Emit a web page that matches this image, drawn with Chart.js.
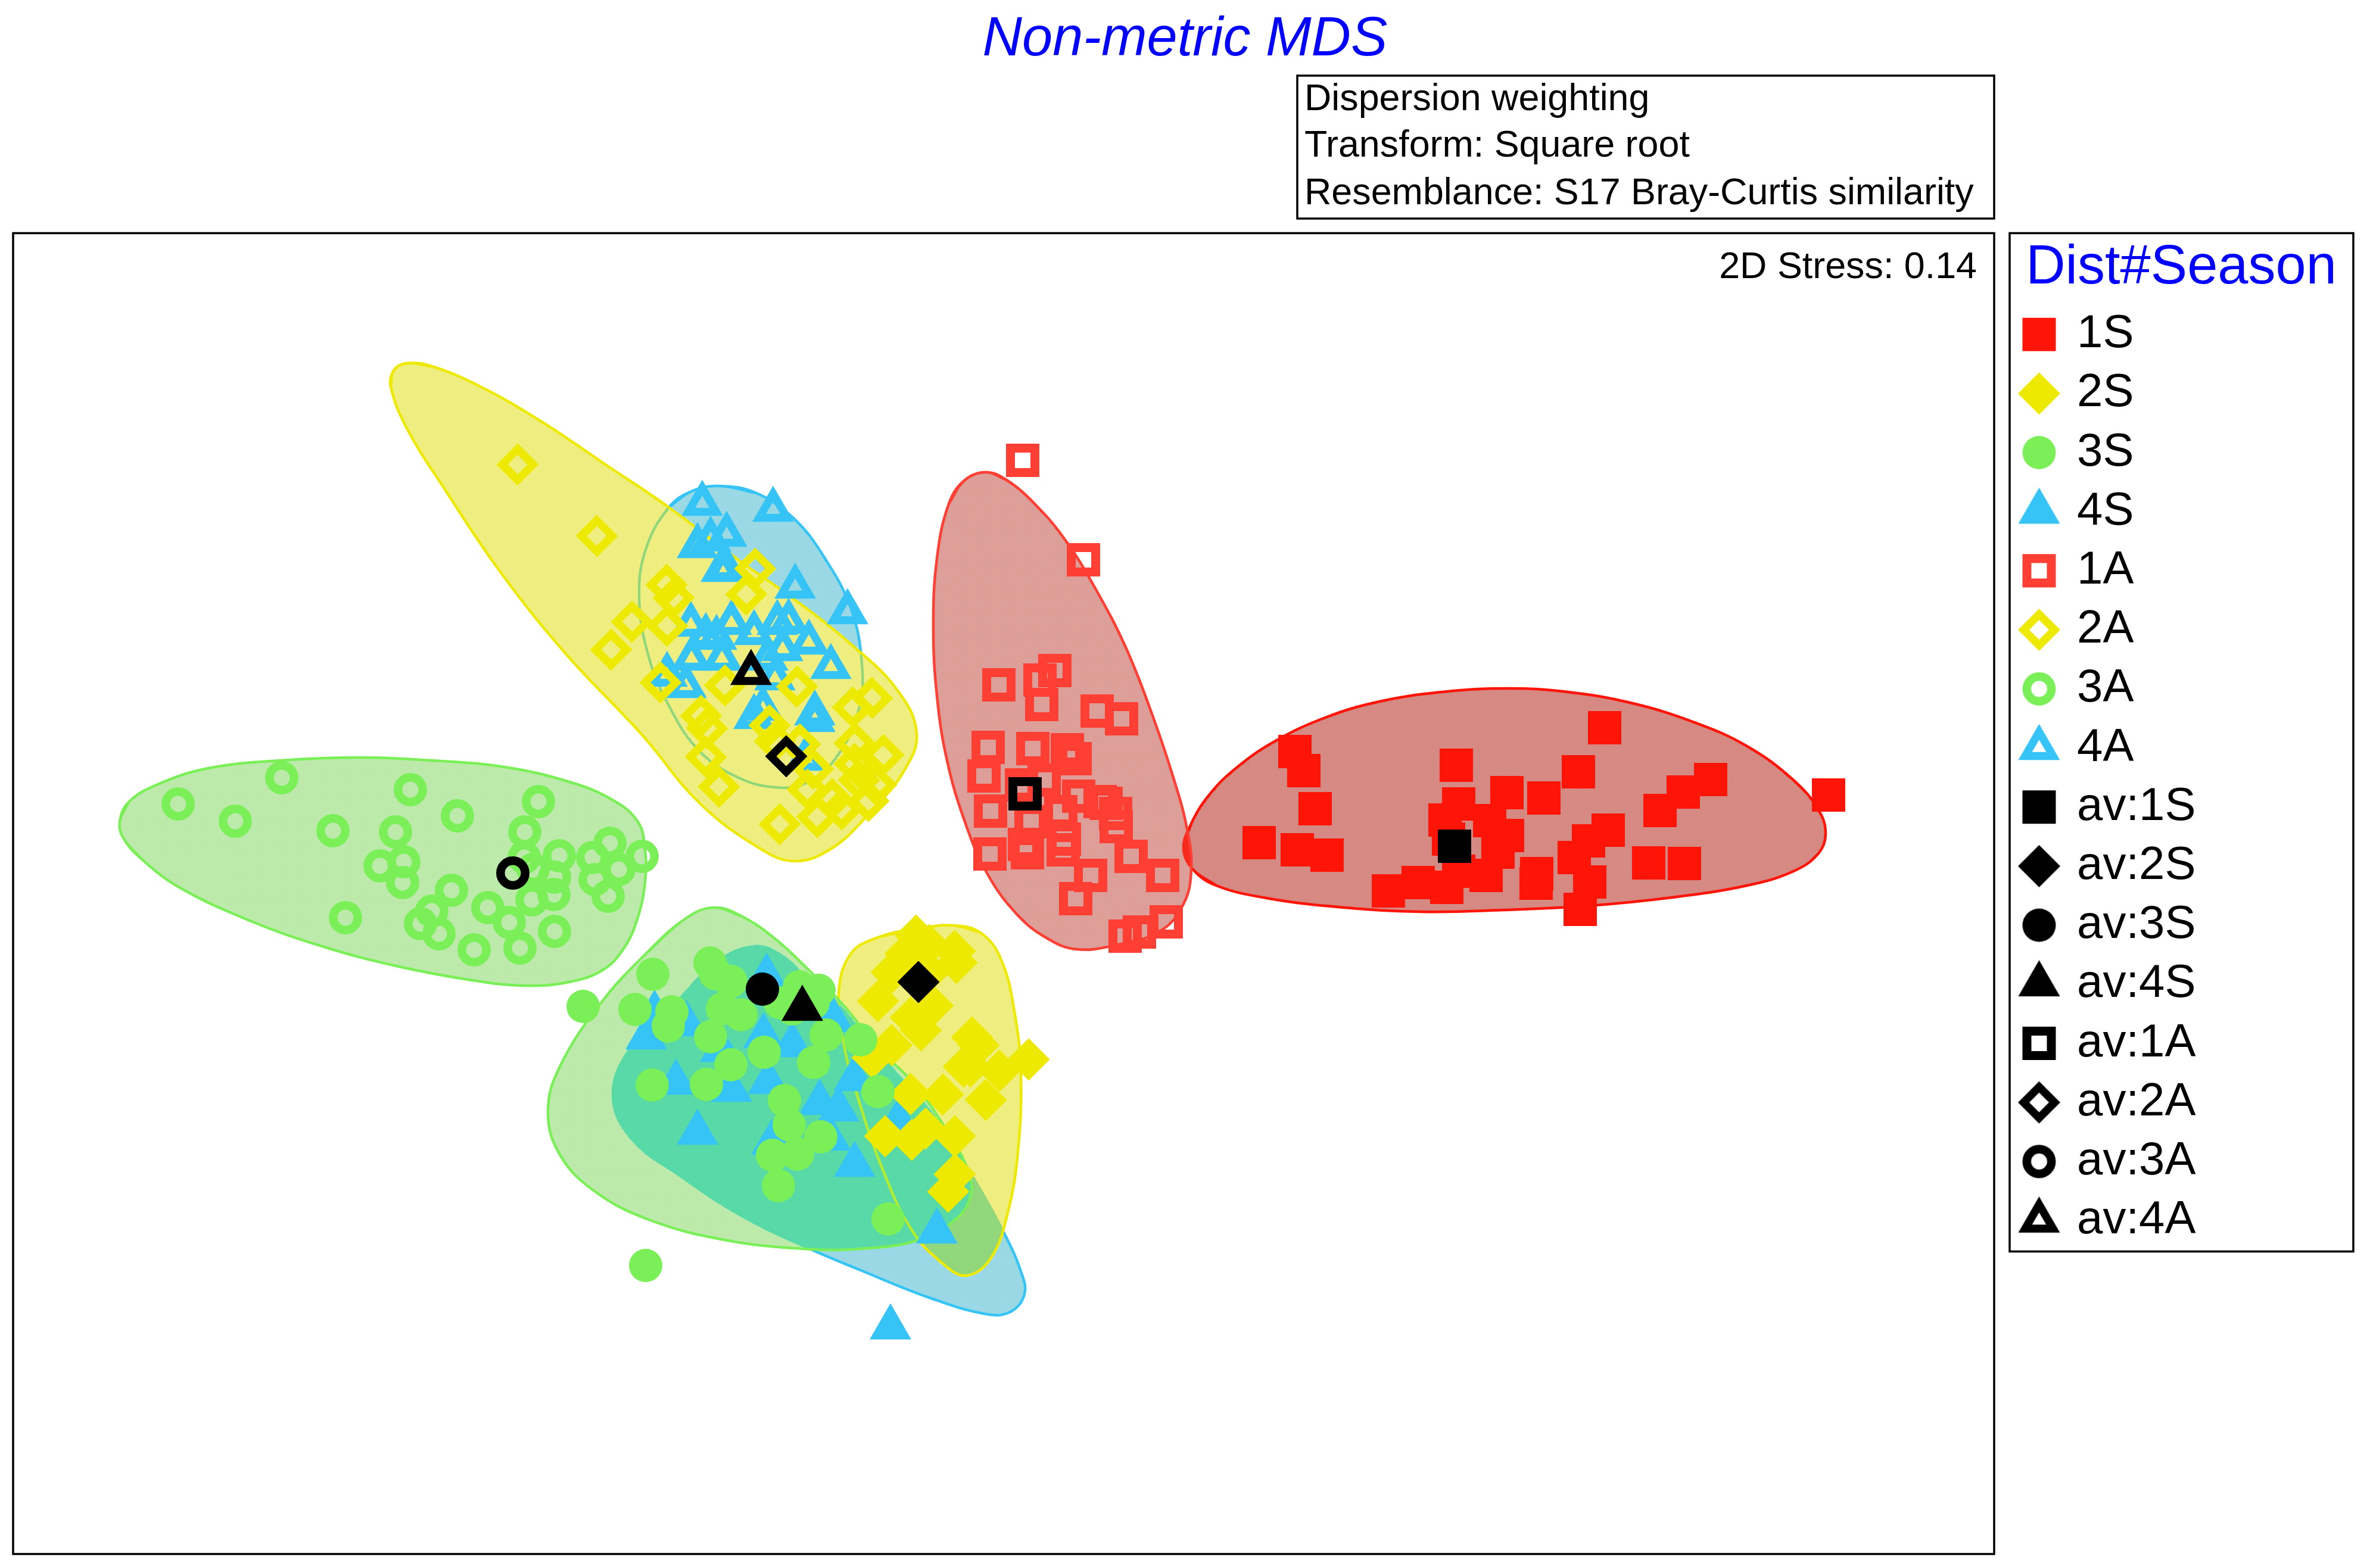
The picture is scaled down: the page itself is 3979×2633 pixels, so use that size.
<!DOCTYPE html>
<html>
<head>
<meta charset="utf-8">
<style>html,body{margin:0;padding:0;background:#fff}canvas{display:block}</style>
<script src="https://cdn.jsdelivr.net/npm/chart.js@4/dist/chart.umd.min.js"></script>
</head>
<body>
<canvas id="c" width="3979" height="2633"></canvas>
<script>
// ---- values (ordination has no units: the frame spans x 22..3348, y 391..2610)
const chartTitle = 'Non-metric MDS';
const legendTitle = 'Dist#Season';
const infoLines = ['Dispersion weighting','Transform: Square root','Resemblance: S17 Bray-Curtis similarity'];
const stressLabel = '2D Stress: 0.14';

const s1S = [[2174,1262],[2189,1294],[2208,1358],[2114,1415],[2178,1427],[2228,1436],[2694,1222],[2445,1285],[2650,1296],[2530,1331],[2592,1340],[2449,1350],[2426,1377],[2501,1378],[2531,1403],[2432,1409],[2515,1431],[2495,1470],[2381,1482],[2331,1496],[2429,1490],[2449,1463],[2580,1467],[2579,1483],[2700,1394],[2667,1412],[2643,1440],[2669,1481],[2653,1527],[2768,1449],[2828,1450],[2787,1361],[2826,1330],[2872,1309],[3070,1335]];
const s2S = [[1538,1571],[1603,1597],[1560,1587],[1520,1602],[1606,1617],[1497,1633],[1560,1633],[1474,1681],[1529,1709],[1566,1689],[1546,1730],[1632,1742],[1643,1755],[1497,1755],[1465,1776],[1618,1791],[1629,1791],[1678,1798],[1727,1779],[1529,1837],[1583,1838],[1655,1847],[1486,1908],[1531,1914],[1554,1895],[1603,1908],[1603,1972],[1592,2001]];
const s3S = [[1096,1636],[979,1690],[1066,1695],[1128,1699],[1122,1723],[1192,1617],[1201,1635],[1227,1648],[1213,1694],[1244,1704],[1193,1741],[1342,1657],[1375,1663],[1310,1684],[1330,1694],[1365,1684],[1387,1738],[1445,1746],[1283,1767],[1366,1784],[1227,1788],[1186,1821],[1095,1822],[1474,1833],[1317,1848],[1325,1889],[1378,1909],[1297,1940],[1339,1938],[1307,1991],[1491,2047],[1084,2125]];
const s4S = [[1085,1742],[1099,1702],[1153,1720],[1287,1640],[1135,1818],[1228,1830],[1290,1817],[1210,1763],[1282,1740],[1330,1755],[1399,1713],[1376,1852],[1408,1863],[1434,1812],[1171,1902],[1296,1919],[1394,1912],[1435,1956],[1508,1883],[1573,2068],[1495,2229]];
const s1A = [[1717,773],[1819,940],[1677,1150],[1746,1142],[1771,1126],[1749,1183],[1842,1194],[1883,1207],[1659,1255],[1734,1257],[1792,1259],[1805,1274],[1652,1303],[1715,1318],[1753,1310],[1663,1362],[1811,1337],[1847,1346],[1857,1349],[1873,1366],[1874,1388],[1781,1363],[1731,1380],[1720,1418],[1725,1432],[1662,1434],[1787,1409],[1785,1427],[1899,1438],[1952,1470],[1831,1470],[1806,1509],[1958,1548],[1913,1565],[1889,1572]];
const s2A = [[869,780],[1002,900],[1119,982],[1131,1004],[1268,955],[1253,998],[1061,1044],[1120,1051],[1026,1091],[1109,1146],[1217,1151],[1338,1153],[1177,1202],[1187,1223],[1185,1271],[1207,1321],[1292,1218],[1301,1245],[1343,1250],[1432,1188],[1464,1172],[1435,1248],[1483,1268],[1435,1283],[1365,1291],[1356,1326],[1471,1318],[1397,1342],[1458,1345],[1413,1359],[1372,1372],[1309,1384],[1442,1310]];
const s3A = [[299,1350],[473,1306],[395,1379],[559,1395],[689,1326],[768,1370],[664,1397],[904,1346],[881,1397],[638,1454],[678,1447],[676,1482],[758,1495],[725,1530],[706,1551],[737,1568],[580,1541],[819,1524],[855,1549],[796,1595],[873,1592],[931,1564],[893,1511],[930,1502],[931,1473],[880,1440],[895,1460],[939,1437],[995,1440],[1024,1416],[1078,1438],[1039,1460],[999,1477],[1021,1505]];
const s4A = [[1179,846],[1298,856],[1220,898],[1171,917],[1193,906],[1211,957],[1219,954],[1335,985],[1423,1028],[1160,1049],[1228,1046],[1266,1063],[1185,1068],[1203,1071],[1305,1046],[1324,1044],[1358,1079],[1314,1090],[1161,1106],[1212,1106],[1289,1106],[1395,1120],[1120,1133],[1152,1152],[1301,1139],[1266,1204],[1281,1190],[1368,1198],[1368,1209],[1353,1274]];
const av1S = [[2442,1421]];
const av2S = [[1542,1649]];
const av3S = [[1280,1661]];
const av4S = [[1347,1694]];
const av1A = [[1721,1333]];
const av2A = [[1320,1270]];
const av3A = [[861,1466]];
const av4A = [[1261,1130]];

const hull1S = [[1987,1425],[2000,1383],[2030,1335],[2075,1290],[2140,1245],[2225,1205],[2316,1178],[2421,1162],[2533,1156],[2632,1162],[2737,1180],[2842,1212],[2933,1253],[3011,1310],[3053,1360],[3065,1400],[3053,1433],[3011,1463],[2933,1487],[2807,1507],[2667,1521],[2526,1528],[2386,1531],[2246,1523],[2126,1508],[2042,1487],[2003,1460]];
const hull1A = [[1655,793],[1690,806],[1740,849],[1790,909],[1840,990],[1890,1087],[1933,1196],[1970,1306],[1993,1392],[2000,1460],[1987,1518],[1947,1564],[1873,1587],[1807,1594],[1757,1575],[1707,1535],[1657,1466],[1620,1380],[1590,1277],[1573,1168],[1567,1053],[1573,938],[1593,846],[1620,806]];
const hull2A = [[683,610],[728,616],[810,651],[906,706],[1015,779],[1123,852],[1238,939],[1333,1006],[1429,1082],[1506,1158],[1539,1231],[1518,1294],[1461,1364],[1397,1424],[1333,1446],[1270,1421],[1174,1348],[1078,1234],[951,1099],[842,963],[747,822],[683,719],[656,649],[661,622]];
const hull3A = [[201,1380],[216,1347],[265,1317],[350,1290],[471,1277],[604,1272],[725,1277],[847,1288],[956,1313],[1028,1343],[1071,1380],[1083,1427],[1083,1480],[1071,1540],[1047,1593],[1010,1630],[950,1650],[877,1655],[786,1645],[665,1622],[544,1590],[422,1547],[301,1490],[235,1440],[207,1407]];
const hull4A = [[1206,816],[1270,828],[1333,871],[1384,936],[1429,1023],[1447,1115],[1442,1191],[1404,1272],[1353,1315],[1301,1322],[1238,1305],[1174,1261],[1123,1185],[1088,1099],[1073,1001],[1085,920],[1123,852],[1161,825]];
const hull4S = [[1267,1589],[1313,1605],[1359,1648],[1405,1684],[1451,1740],[1508,1806],[1566,1872],[1629,1969],[1686,2071],[1715,2138],[1720,2173],[1698,2202],[1658,2207],[1560,2179],[1445,2133],[1348,2092],[1244,2041],[1141,1974],[1061,1913],[1029,1842],[1055,1765],[1130,1689],[1204,1615]];
const hull3S = [[1199,1524],[1244,1538],[1302,1577],[1359,1630],[1417,1689],[1474,1760],[1531,1816],[1583,1888],[1623,1959],[1630,2005],[1606,2046],[1543,2082],[1445,2097],[1348,2097],[1216,2082],[1089,2048],[998,2000],[940,1939],[920,1867],[940,1791],[1009,1684],[1089,1597],[1153,1541]];
const hull2S = [[1600,1554],[1646,1566],[1681,1612],[1704,1704],[1714,1806],[1709,1934],[1692,2036],[1664,2112],[1623,2142],[1583,2122],[1531,2066],[1480,1959],[1440,1842],[1417,1755],[1408,1668],[1428,1602],[1474,1574],[1543,1559]];

const RED='#FF1408', RED2='#FF3F33', YEL='#EEE900', GRN='#7BEF58', BLU='#35C4F5', BLK='#000000';

// marker geometry: [pointStyle, filled radius, hollow radius, hollow stroke]
const SHAPE = {
  square:['rect',39.6,29,15],
  diamond:['rectRot',35.5,26,13.4],
  circle:['circle',28,20.7,14.5],
  triangle:['triangle',40.4,27,13.4]
};
const seriesDefs = [
  ['1S',s1S,'square',RED,false,44],['2S',s2S,'diamond',YEL,false,49],['3S',s3S,'circle',GRN,false,48],['4S',s4S,'triangle',BLU,false,50],
  ['1A',s1A,'square',RED2,true,43],['2A',s2A,'diamond',YEL,true,46],['3A',s3A,'circle',GRN,true,45],['4A',s4A,'triangle',BLU,true,47],
  ['av:1S',av1S,'square',BLK,false,9],['av:2S',av2S,'diamond',BLK,false,8],['av:3S',av3S,'circle',BLK,false,7],['av:4S',av4S,'triangle',BLK,false,6],
  ['av:1A',av1A,'square',BLK,true,5],['av:2A',av2A,'diamond',BLK,true,4],['av:3A',av3A,'circle',BLK,true,3],['av:4A',av4A,'triangle',BLK,true,2]
];
// hull: points, colour, stipple phase, draw order (higher = further back)
const hullDefs = [
  [hull4A,BLU,1,100],[hull4S,BLU,0,99],[hull1S,RED,0,98],[hull1A,RED2,1,97],
  [hull2A,YEL,1,96],[hull2S,YEL,1,95],[hull3A,GRN,1,94],[hull3S,GRN,1,93]
];

function stipple(color, phase){
  const p=document.createElement('canvas'); p.width=p.height=2;
  const g=p.getContext('2d'); g.fillStyle=color;
  g.fillRect(phase,0,1,1); g.fillRect(1-phase,1,1,1);
  return g.createPattern(p,'repeat');
}
const toXY = a => a.map(([x,y])=>({x,y}));
// wrap the outline past its start so the spline closes without a corner
const wrap = a => a.slice(-2).concat(a, a.slice(0,2));

const markerSets = seriesDefs.map(([label,pts,shape,color,hollow,order])=>{
  const [style,rf,rh,sw]=SHAPE[shape];
  return {label,data:toXY(pts),order,showLine:false,pointStyle:style,
    pointRadius:hollow?rh:rf,pointHoverRadius:hollow?rh:rf,
    pointBorderWidth:hollow?sw:0,pointHoverBorderWidth:hollow?sw:0,
    pointBorderColor:color,pointBackgroundColor:hollow?'rgba(0,0,0,0)':color};
});
const hullSets = hullDefs.map(([pts,color,phase,order])=>({
  label:'hull',data:toXY(wrap(pts)),order,showLine:true,tension:0.4,
  pointRadius:0,pointHoverRadius:0,borderColor:color,borderWidth:4.5,
  backgroundColor:stipple(color,phase),fill:'shape'
}));

function legendGlyph(ds){
  const c=document.createElement('canvas'); c.width=c.height=110;
  const g=c.getContext('2d');
  g.fillStyle=ds.pointBackgroundColor; g.strokeStyle=ds.pointBorderColor; g.lineWidth=ds.pointBorderWidth;
  Chart.helpers.drawPoint(g,{pointStyle:ds.pointStyle,radius:ds.pointRadius,rotation:0,borderWidth:ds.pointBorderWidth},55,55);
  return c;
}

const framePlugin = {
  id:'frames',
  beforeDraw(chart){
    const t=chart.titleBlock; t.left=0; t.right=3979;
    const l=chart.legend; l.left=3377.8; l.right=3946.2; l.width=568.4; l.top=391; l.bottom=2500; l.height=2109;
  },
  afterDraw(chart){
    const g=chart.ctx; g.save();
    g.strokeStyle='#000'; g.lineWidth=3.5;
    g.strokeRect(2178,127,1170,240);
    g.strokeRect(22,391.5,3326,2218);
    g.strokeRect(3374,391.5,577,1710);
    g.fillStyle='#000'; g.font='62.8px "Liberation Sans"'; g.textBaseline='alphabetic';
    g.textAlign='left';
    g.fillText(infoLines[0],2190,185);
    g.fillText(infoLines[1],2190,263);
    g.fillText(infoLines[2],2190,343);
    g.textAlign='right';
    g.fillText(stressLabel,3319,467);
    g.restore();
  }
};

new Chart(document.getElementById('c'),{
  type:'scatter',
  data:{datasets:markerSets.concat(hullSets)},
  plugins:[framePlugin],
  options:{
    responsive:false,animation:false,devicePixelRatio:1,events:[],
    layout:{autoPadding:false,padding:{left:22,right:631,top:0,bottom:23}},
    scales:{
      x:{type:'linear',min:22,max:3348,display:false},
      y:{type:'linear',min:391,max:2610,reverse:true,display:false}
    },
    plugins:{
      tooltip:{enabled:false},
      title:{display:true,text:chartTitle,color:'#0000FF',align:'center',
        font:{family:'"Liberation Sans"',size:92,style:'italic',weight:'normal'},
        padding:{top:12,bottom:268.6}},
      legend:{display:true,position:'chartArea',align:'start',
        title:{display:true,text:legendTitle,color:'#0000FF',position:'center',
          font:{family:'"Liberation Sans"',size:92,weight:'normal'},padding:{top:13.5,bottom:-13.5}},
        labels:{usePointStyle:true,boxWidth:49,boxHeight:40,padding:21.2,color:'#000',
          font:{family:'"Liberation Sans"',size:78,weight:'normal'},
          generateLabels(){
            return markerSets.map((ds,i)=>({text:ds.label,pointStyle:legendGlyph(ds),fillStyle:'#000',strokeStyle:'#000',lineWidth:0,hidden:false,datasetIndex:i,fontColor:'#000'}));
          }
        }
      }
    }
  }
});
</script>
</body>
</html>
